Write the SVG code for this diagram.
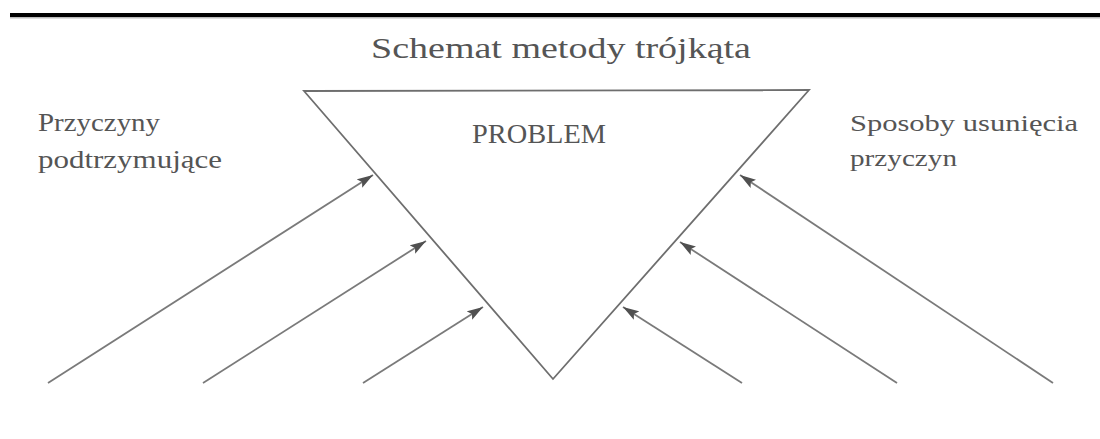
<svg xmlns="http://www.w3.org/2000/svg" width="1100" height="439" viewBox="0 0 1100 439">
<style>
.t{font-family:"Liberation Serif","DejaVu Serif",serif;fill:#555}
.edge{stroke:#7a7a7a;stroke-width:1.8;fill:none}
.tri{stroke:#6e6e6e;stroke-width:1.8;fill:#fff}
</style>
<defs>
<marker id="ah" viewBox="0 0 16 10" markerWidth="16" markerHeight="10" refX="16" refY="5" orient="auto" markerUnits="userSpaceOnUse">
<path d="M0,0 L16,5 L0,10 L3,5 z" fill="#505050"/>
</marker>
</defs>
<rect x="0" y="0" width="1100" height="439" fill="#fff"/>
<rect x="10" y="13" width="1090" height="4" fill="#000"/>
<rect x="10" y="17" width="1090" height="1.5" fill="#bbb"/>
<text class="t" x="561" y="58" font-size="29" text-anchor="middle" textLength="380" lengthAdjust="spacingAndGlyphs">Schemat metody trójkąta</text>
<g id="problem">
<polygon class="tri" points="304,91 809,90 553,379"/>
<text class="t" x="539" y="143" font-size="27" text-anchor="middle" textLength="134" lengthAdjust="spacingAndGlyphs">PROBLEM</text>
</g>
<g id="przyczyny">
<text class="t" x="38" y="131" font-size="25" textLength="122" lengthAdjust="spacingAndGlyphs">Przyczyny</text>
<text class="t" x="38" y="168" font-size="25" textLength="184" lengthAdjust="spacingAndGlyphs">podtrzymujące</text>
</g>
<g id="sposoby">
<text class="t" x="850" y="131" font-size="24" textLength="228" lengthAdjust="spacingAndGlyphs">Sposoby usunięcia</text>
<text class="t" x="850" y="166" font-size="24" textLength="107" lengthAdjust="spacingAndGlyphs">przyczyn</text>
</g>
<g id="connectors">
<line class="edge" x1="48" y1="383" x2="373" y2="175" marker-end="url(#ah)"/>
<line class="edge" x1="203" y1="383" x2="426" y2="241" marker-end="url(#ah)"/>
<line class="edge" x1="363" y1="383" x2="483" y2="307" marker-end="url(#ah)"/>
<line class="edge" x1="1053" y1="383" x2="740" y2="175" marker-end="url(#ah)"/>
<line class="edge" x1="897" y1="383" x2="680" y2="242" marker-end="url(#ah)"/>
<line class="edge" x1="742" y1="383" x2="623" y2="307" marker-end="url(#ah)"/>
</g>
</svg>
